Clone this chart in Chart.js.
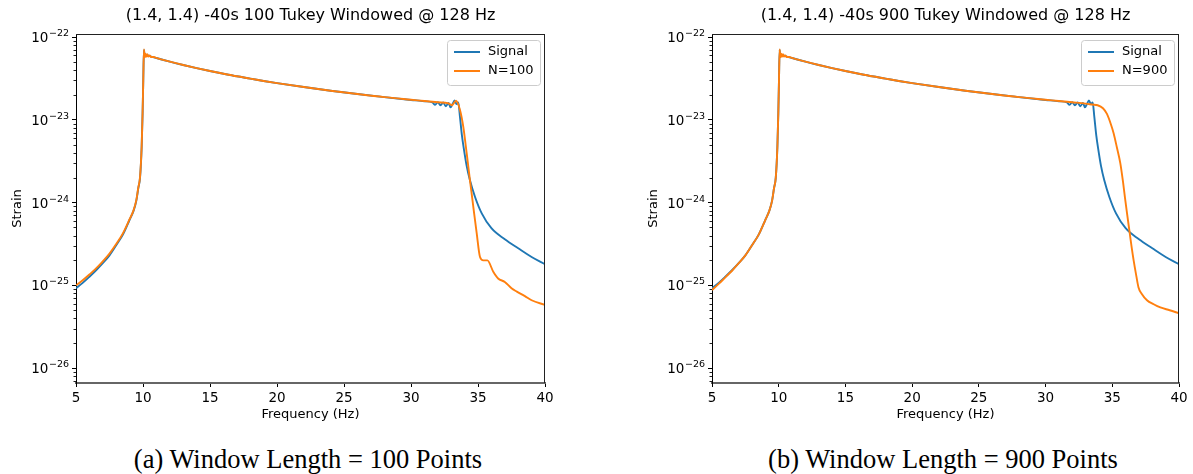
<!DOCTYPE html>
<html>
<head>
<meta charset="utf-8">
<script src="https://cdn.jsdelivr.net/npm/chart.js@4.4.1/dist/chart.umd.min.js"></script>
<style>
body { margin:0; background:#fff; width:1193px; height:474px; position:relative; overflow:hidden; }
canvas { position:absolute; top:0; }
#c1 { left:0; }
#c2 { left:636px; }
.caption { position:absolute; top:444px; width:600px; text-align:center; font-family:"Liberation Serif","Times New Roman",serif; font-size:26.5px; line-height:30px; color:#000; }
</style>
</head>
<body>
<canvas id="c1" width="560" height="430"></canvas>
<canvas id="c2" width="558" height="430"></canvas>
<div class="caption" style="left:8px">(a) Window Length = 100 Points</div>
<div class="caption" style="left:643px">(b) Window Length = 900 Points</div>
<script>
// frequency axis + strain ticks
var xTicks = [5, 10, 15, 20, 25, 30, 35, 40];
var yTickValues = [1e-26, 1e-25, 1e-24, 1e-23, 1e-22];
var yTickExp = ["−26", "−25", "−24", "−23", "−22"];

// the signal (same in both panels)
var signalHz = [5, 5.5, 6, 6.5, 7, 7.5, 8, 8.5, 9, 9.3, 9.5, 9.65, 9.78, 9.9, 9.97, 10.02, 10.07, 10.12, 10.25,
  10.5, 11, 12, 13, 14, 15, 16, 17, 18, 19, 20, 22, 24, 26, 28, 30, 31, 31.6, 31.8, 32.0, 32.2, 32.4, 32.6,
  32.8, 32.95, 33.1, 33.25, 33.4, 33.53, 33.65, 33.8, 33.95, 34.15, 34.4, 34.78, 35.28, 36, 37, 38, 39, 40];
var signalStrain = [9.2e-26, 1.07e-25, 1.27e-25, 1.52e-25, 1.85e-25, 2.3e-25, 3.05e-25, 4.1e-25, 6.2e-25, 8.0e-25,
  1.05e-24, 1.5e-24, 2.0e-24, 4.7e-24, 1.2e-23, 3.0e-23, 7.0e-23, 6.0e-23, 6.1e-23,
  5.9e-23, 5.59e-23, 5.05e-23, 4.6e-23, 4.22e-23, 3.89e-23, 3.61e-23, 3.36e-23, 3.15e-23, 2.95e-23, 2.78e-23,
  2.49e-23, 2.25e-23, 2.05e-23, 1.88e-23, 1.74e-23, 1.68e-23, 1.62e-23, 1.52e-23, 1.63e-23, 1.5e-23, 1.62e-23, 1.46e-23,
  1.6e-23, 1.42e-23, 1.55e-23, 1.72e-23, 1.55e-23, 1.62e-23, 1.1e-23, 6.5e-24, 4.4e-24, 2.8e-24, 1.86e-24, 1.17e-24,
  7.4e-25, 4.9e-25, 3.6e-25, 2.8e-25, 2.2e-25, 1.8e-25];

// N=100 window
var n100Hz = [5, 5.5, 6, 6.5, 7, 7.5, 8, 8.5, 9, 9.3, 9.5, 9.65, 9.78, 9.9, 9.97, 10.02, 10.07, 10.12, 10.18,
  10.25, 10.32, 10.4, 10.5, 10.6, 10.8, 11, 12, 13, 14, 15, 16, 17, 18, 19, 20, 22, 24, 26, 28, 30, 31, 32,
  32.8, 33.05, 33.36, 33.66, 33.9, 34.16, 34.4, 34.65, 34.9, 35.15, 35.4, 35.7, 36.14, 36.5, 37.0, 37.5,
  37.9, 38.5, 39.0, 40];
var n100Strain = [1.0e-25, 1.15e-25, 1.35e-25, 1.6e-25, 1.95e-25, 2.42e-25, 3.15e-25, 4.25e-25, 6.3e-25, 8.1e-25,
  1.07e-24, 1.52e-24, 2.05e-24, 4.8e-24, 1.22e-23, 3.0e-23, 7.1e-23, 5.7e-23, 6.3e-23,
  5.8e-23, 6.2e-23, 5.8e-23, 6.0e-23, 5.75e-23, 5.75e-23, 5.6e-23, 5.05e-23, 4.6e-23, 4.22e-23, 3.89e-23, 3.61e-23,
  3.36e-23, 3.15e-23, 2.95e-23, 2.78e-23, 2.49e-23, 2.25e-23, 2.05e-23, 1.88e-23, 1.75e-23, 1.69e-23, 1.63e-23,
  1.58e-23, 1.5e-23, 1.7e-23, 1.31e-23, 8.3e-24, 3.9e-24, 1.86e-24, 8.9e-25, 4.3e-25, 2.2e-25, 2.0e-25,
  2.0e-25, 1.46e-25, 1.21e-25, 1.1e-25, 9.2e-26, 8.4e-26, 7.4e-26, 6.6e-26, 5.8e-26];

// N=900 window
var n900Hz = [5, 5.5, 6, 6.5, 7, 7.5, 8, 8.5, 9, 9.3, 9.5, 9.65, 9.78, 9.9, 9.97, 10.02, 10.07, 10.12, 10.18,
  10.25, 10.32, 10.4, 10.5, 10.6, 10.8, 11, 12, 13, 14, 15, 16, 17, 18, 19, 20, 22, 24, 26, 28, 30, 31, 32,
  33, 33.5, 33.9, 34.3, 34.6, 34.9, 35.1, 35.35, 35.6, 35.8, 35.95, 36.1, 36.28, 36.45, 36.6, 36.8, 36.96,
  37.2, 37.6, 38.1, 38.6, 39.3, 40];
var n900Strain = [8.8e-26, 1.04e-25, 1.25e-25, 1.5e-25, 1.85e-25, 2.3e-25, 3.05e-25, 4.1e-25, 6.2e-25, 8.0e-25,
  1.05e-24, 1.5e-24, 2.0e-24, 4.7e-24, 1.2e-23, 3.0e-23, 7.1e-23, 5.7e-23, 6.3e-23,
  5.8e-23, 6.2e-23, 5.8e-23, 6.0e-23, 5.75e-23, 5.75e-23, 5.6e-23, 5.05e-23, 4.6e-23, 4.22e-23, 3.89e-23, 3.61e-23,
  3.36e-23, 3.15e-23, 2.95e-23, 2.78e-23, 2.49e-23, 2.25e-23, 2.05e-23, 1.88e-23, 1.75e-23, 1.69e-23, 1.63e-23,
  1.57e-23, 1.53e-23, 1.5e-23, 1.38e-23, 1.18e-23, 8.8e-24, 6.9e-24, 4.6e-24, 3.0e-24, 1.8e-24, 1.15e-24,
  7.5e-25, 4.6e-25, 2.9e-25, 2.0e-25, 1.3e-25, 9.5e-26, 7.9e-26, 6.6e-26, 5.9e-26, 5.4e-26, 5.0e-26, 4.6e-26];

var BLUE = "#1f77b4", ORANGE = "#ff7f0e";
var FONT = "'DejaVu Sans', sans-serif";
Chart.defaults.font.family = FONT;
Chart.defaults.color = "#000";

function pts(xs, ys) {
  return xs.map(function (x, i) { return { x: x, y: ys[i] }; });
}

// title, top/right spines, 10^n labels, minor log ticks, legend box inside the plot
var framePlugin = {
  id: "frame",
  afterDraw: function (chart, args, opts) {
    var ctx = chart.ctx, a = chart.chartArea, y = chart.scales.y;
    ctx.save();
    ctx.fillStyle = "#000";
    ctx.textAlign = "center";
    ctx.textBaseline = "middle";
    ctx.font = "16px " + FONT;
    ctx.fillText(opts.title, (a.left + a.right) / 2, 16);

    ctx.strokeStyle = "#222";
    ctx.lineWidth = 1;
    ctx.beginPath();
    ctx.moveTo(a.left, a.top + 0.5); ctx.lineTo(a.right, a.top + 0.5);
    ctx.moveTo(a.right - 0.5, a.top); ctx.lineTo(a.right - 0.5, a.bottom);
    ctx.stroke();

    // minor ticks 2..9 x 10^n
    ctx.beginPath();
    for (var e = -27; e <= -22; e++) {
      for (var m = 2; m <= 9; m++) {
        var v = m * Math.pow(10, e);
        if (v < y.min || v > y.max) continue;
        var py = Math.round(y.getPixelForValue(v)) + 0.5;
        ctx.moveTo(a.left - 2.5, py); ctx.lineTo(a.left, py);
      }
    }
    ctx.stroke();

    // major labels as 10 with a raised exponent
    ctx.textAlign = "right";
    ctx.textBaseline = "alphabetic";
    yTickValues.forEach(function (v, i) {
      var py = y.getPixelForValue(v);
      var xr = a.left - 7;
      ctx.font = "9.5px " + FONT;
      var ew = ctx.measureText(yTickExp[i]).width;
      ctx.fillText(yTickExp[i], xr, py - 1);
      ctx.font = "13.5px " + FONT;
      ctx.fillText("10", xr - ew - 0.5, py + 5);
    });

    // legend
    var ds = chart.data.datasets;
    var w = 93, h = 45;
    var lx = a.right - 5 - w, ly = a.top + 6;
    ctx.fillStyle = "rgba(255,255,255,0.8)";
    ctx.strokeStyle = "#cccccc";
    ctx.beginPath();
    ctx.roundRect(lx + 0.5, ly + 0.5, w, h, 3);
    ctx.fill();
    ctx.stroke();
    ctx.font = "13px " + FONT;
    ctx.textAlign = "left";
    ctx.textBaseline = "middle";
    ctx.fillStyle = "#000";
    ctx.lineWidth = 2;
    for (var k = 0; k < ds.length; k++) {
      var ry = ly + 12 + k * 19;
      ctx.strokeStyle = ds[k].borderColor;
      ctx.beginPath();
      ctx.moveTo(lx + 7, ry); ctx.lineTo(lx + 33, ry);
      ctx.stroke();
      ctx.fillText(ds[k].label, lx + 41, ry);
    }
    ctx.restore();
  }
};

function makeChart(id, title, label2, hz2, strain2, padRight) {
  return new Chart(document.getElementById(id), {
    type: "line",
    data: {
      datasets: [
        { label: "Signal", data: pts(signalHz, signalStrain), borderColor: BLUE, order: 1 },
        { label: label2, data: pts(hz2, strain2), borderColor: ORANGE, order: 0 }
      ]
    },
    options: {
      responsive: false,
      animation: false,
      devicePixelRatio: 1,
      layout: { padding: { left: 0, right: padRight, top: 34, bottom: 0 } },
      elements: {
        point: { radius: 0 },
        line: { borderWidth: 1.9, cubicInterpolationMode: "monotone", fill: false }
      },
      plugins: {
        legend: { display: false },
        tooltip: { enabled: false },
        title: { display: false },
        frame: { title: title }
      },
      scales: {
        x: {
          type: "linear", min: 5, max: 40,
          afterBuildTicks: function (s) { s.ticks = xTicks.map(function (v) { return { value: v }; }); },
          afterFit: function (s) { s.height = 47; },
          grid: { drawOnChartArea: false, drawTicks: true, tickLength: 4, color: "#000" },
          border: { display: true, color: "#666", width: 2 },
          ticks: { font: { size: 13.5 }, padding: 3, maxRotation: 0 },
          title: { display: true, text: "Frequency (Hz)", font: { size: 13 }, padding: { top: 0, bottom: 8 } }
        },
        y: {
          type: "logarithmic", min: 6.6e-27, max: 1.09e-22,
          afterBuildTicks: function (s) { s.ticks = yTickValues.map(function (v) { return { value: v }; }); },
          afterFit: function (s) { s.width = 76; },
          grid: { drawOnChartArea: false, drawTicks: true, tickLength: 4, color: "#000" },
          border: { display: true, color: "#000", width: 1 },
          ticks: { display: false },
          title: { display: true, text: "Strain", font: { size: 13 }, padding: { top: 10, bottom: 0 } }
        }
      }
    },
    plugins: [framePlugin]
  });
}

makeChart("c1", "(1.4, 1.4) -40s 100 Tukey Windowed @ 128 Hz", "N=100", n100Hz, n100Strain, 15);
makeChart("c2", "(1.4, 1.4) -40s 900 Tukey Windowed @ 128 Hz", "N=900", n900Hz, n900Strain, 15);
</script>
</body>
</html>
